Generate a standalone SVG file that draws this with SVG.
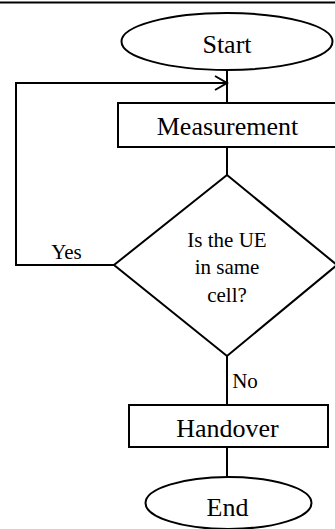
<svg xmlns="http://www.w3.org/2000/svg" width="335" height="529" viewBox="0 0 335 529">
  <style>
    .shape { fill: #ffffff; stroke: #000000; stroke-width: 2; }
    .wire { fill: none; stroke: #000000; stroke-width: 2; }
    .label { fill: #000000; text-anchor: middle; }
  </style>
  <defs>
    <marker id="open-arrow" markerWidth="16" markerHeight="16" refX="13" refY="8" orient="auto" markerUnits="userSpaceOnUse">
      <path d="M1,1 L13,8 L1,15" fill="none" stroke="#000000" stroke-width="2"/>
    </marker>
  </defs>

  <rect width="335" height="529" fill="#ffffff"/>

  <!-- rule at the top edge -->
  <line x1="0" y1="2.5" x2="335" y2="2.5" stroke="#000000" stroke-width="2"/>

  <g font-family="'Liberation Serif', 'Times New Roman', 'DejaVu Serif', serif">
    <g id="connectors">
      <line class="wire" x1="227" y1="70" x2="227" y2="103"/>
      <path class="wire" d="M114,265 H16 V83 H227" marker-end="url(#open-arrow)"/>
      <line class="wire" x1="227" y1="147" x2="227" y2="175"/>
      <line class="wire" x1="227" y1="356" x2="227" y2="405"/>
      <line class="wire" x1="227" y1="447" x2="227" y2="477"/>
      <text class="label" font-size="21" x="66.5" y="259">Yes</text>
      <text class="label" font-size="21" x="245" y="388">No</text>
    </g>

    <g id="start">
      <ellipse class="shape" cx="227" cy="41.5" rx="105.5" ry="28.5"/>
      <text class="label" font-size="26" x="227" y="52.5">Start</text>
    </g>

    <g id="measurement">
      <rect class="shape" x="118" y="103" width="220" height="44"/>
      <text class="label" font-size="26" x="227.5" y="135">Measurement</text>
    </g>

    <g id="decision">
      <polygon class="shape" points="227,175 337,265 227,356 114,265"/>
      <text class="label" font-size="21" x="227" y="246.5">Is the UE</text>
      <text class="label" font-size="21" x="227" y="274">in same</text>
      <text class="label" font-size="21" x="227" y="301.5">cell?</text>
    </g>

    <g id="handover">
      <rect class="shape" x="129" y="405" width="199" height="42"/>
      <text class="label" font-size="26" x="227.5" y="437">Handover</text>
    </g>

    <g id="end">
      <ellipse class="shape" cx="228.5" cy="503" rx="83" ry="26"/>
      <text class="label" font-size="26" x="227.5" y="516">End</text>
    </g>
  </g>
</svg>
